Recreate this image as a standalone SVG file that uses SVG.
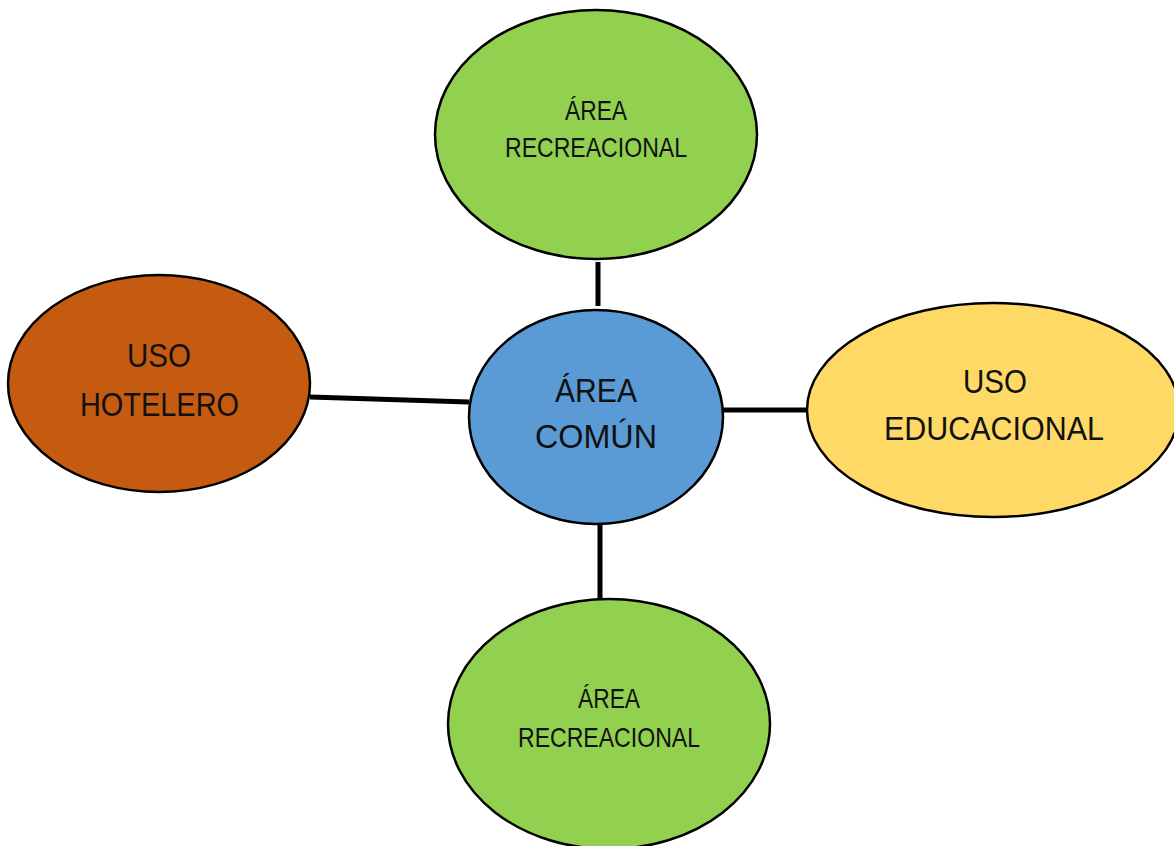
<svg xmlns="http://www.w3.org/2000/svg" width="1174" height="846" viewBox="0 0 1174 846">
<style>
.n{stroke:#000;stroke-width:2.5}
.t{font-family:"Liberation Sans Narrow","Liberation Sans",Arial,sans-serif;fill:#111;text-anchor:middle}
.c{stroke:#000;stroke-width:5;fill:none}
</style>
<rect width="1174" height="846" fill="#fff"/>
<g id="connectors">
<line class="c" x1="598" y1="262" x2="598" y2="306"/>
<line class="c" x1="310" y1="397" x2="469" y2="402"/>
<line class="c" x1="723" y1="410" x2="807" y2="410"/>
<line class="c" x1="600" y1="525" x2="600" y2="600"/>
</g>
<g id="area-recreacional-top">
<ellipse class="n" cx="596" cy="134.5" rx="161" ry="124.5" fill="#92D050"/>
<text class="t" x="596" y="120" font-size="28" textLength="62" lengthAdjust="spacingAndGlyphs">ÁREA</text>
<text class="t" x="596" y="157" font-size="28" textLength="182" lengthAdjust="spacingAndGlyphs">RECREACIONAL</text>
</g>
<g id="uso-hotelero">
<ellipse class="n" cx="159" cy="383.5" rx="151" ry="108.5" fill="#C55A11"/>
<text class="t" x="159" y="367" font-size="34" textLength="64" lengthAdjust="spacingAndGlyphs">USO</text>
<text class="t" x="159.5" y="416" font-size="34" textLength="159" lengthAdjust="spacingAndGlyphs">HOTELERO</text>
</g>
<g id="area-comun">
<ellipse class="n" cx="596" cy="417" rx="127" ry="107" fill="#5B9BD5"/>
<text class="t" x="596" y="402" font-size="33" textLength="82" lengthAdjust="spacingAndGlyphs">ÁREA</text>
<text class="t" x="596" y="448" font-size="33" textLength="122" lengthAdjust="spacingAndGlyphs">COMÚN</text>
</g>
<g id="uso-educacional">
<ellipse class="n" cx="993" cy="410" rx="186" ry="107" fill="#FFD966"/>
<text class="t" x="995" y="393" font-size="33" textLength="64" lengthAdjust="spacingAndGlyphs">USO</text>
<text class="t" x="994" y="440" font-size="33" textLength="220" lengthAdjust="spacingAndGlyphs">EDUCACIONAL</text>
</g>
<g id="area-recreacional-bottom">
<ellipse class="n" cx="609" cy="724" rx="161" ry="125" fill="#92D050"/>
<text class="t" x="609" y="708" font-size="28" textLength="62" lengthAdjust="spacingAndGlyphs">ÁREA</text>
<text class="t" x="609" y="747" font-size="28" textLength="182" lengthAdjust="spacingAndGlyphs">RECREACIONAL</text>
</g>
</svg>
